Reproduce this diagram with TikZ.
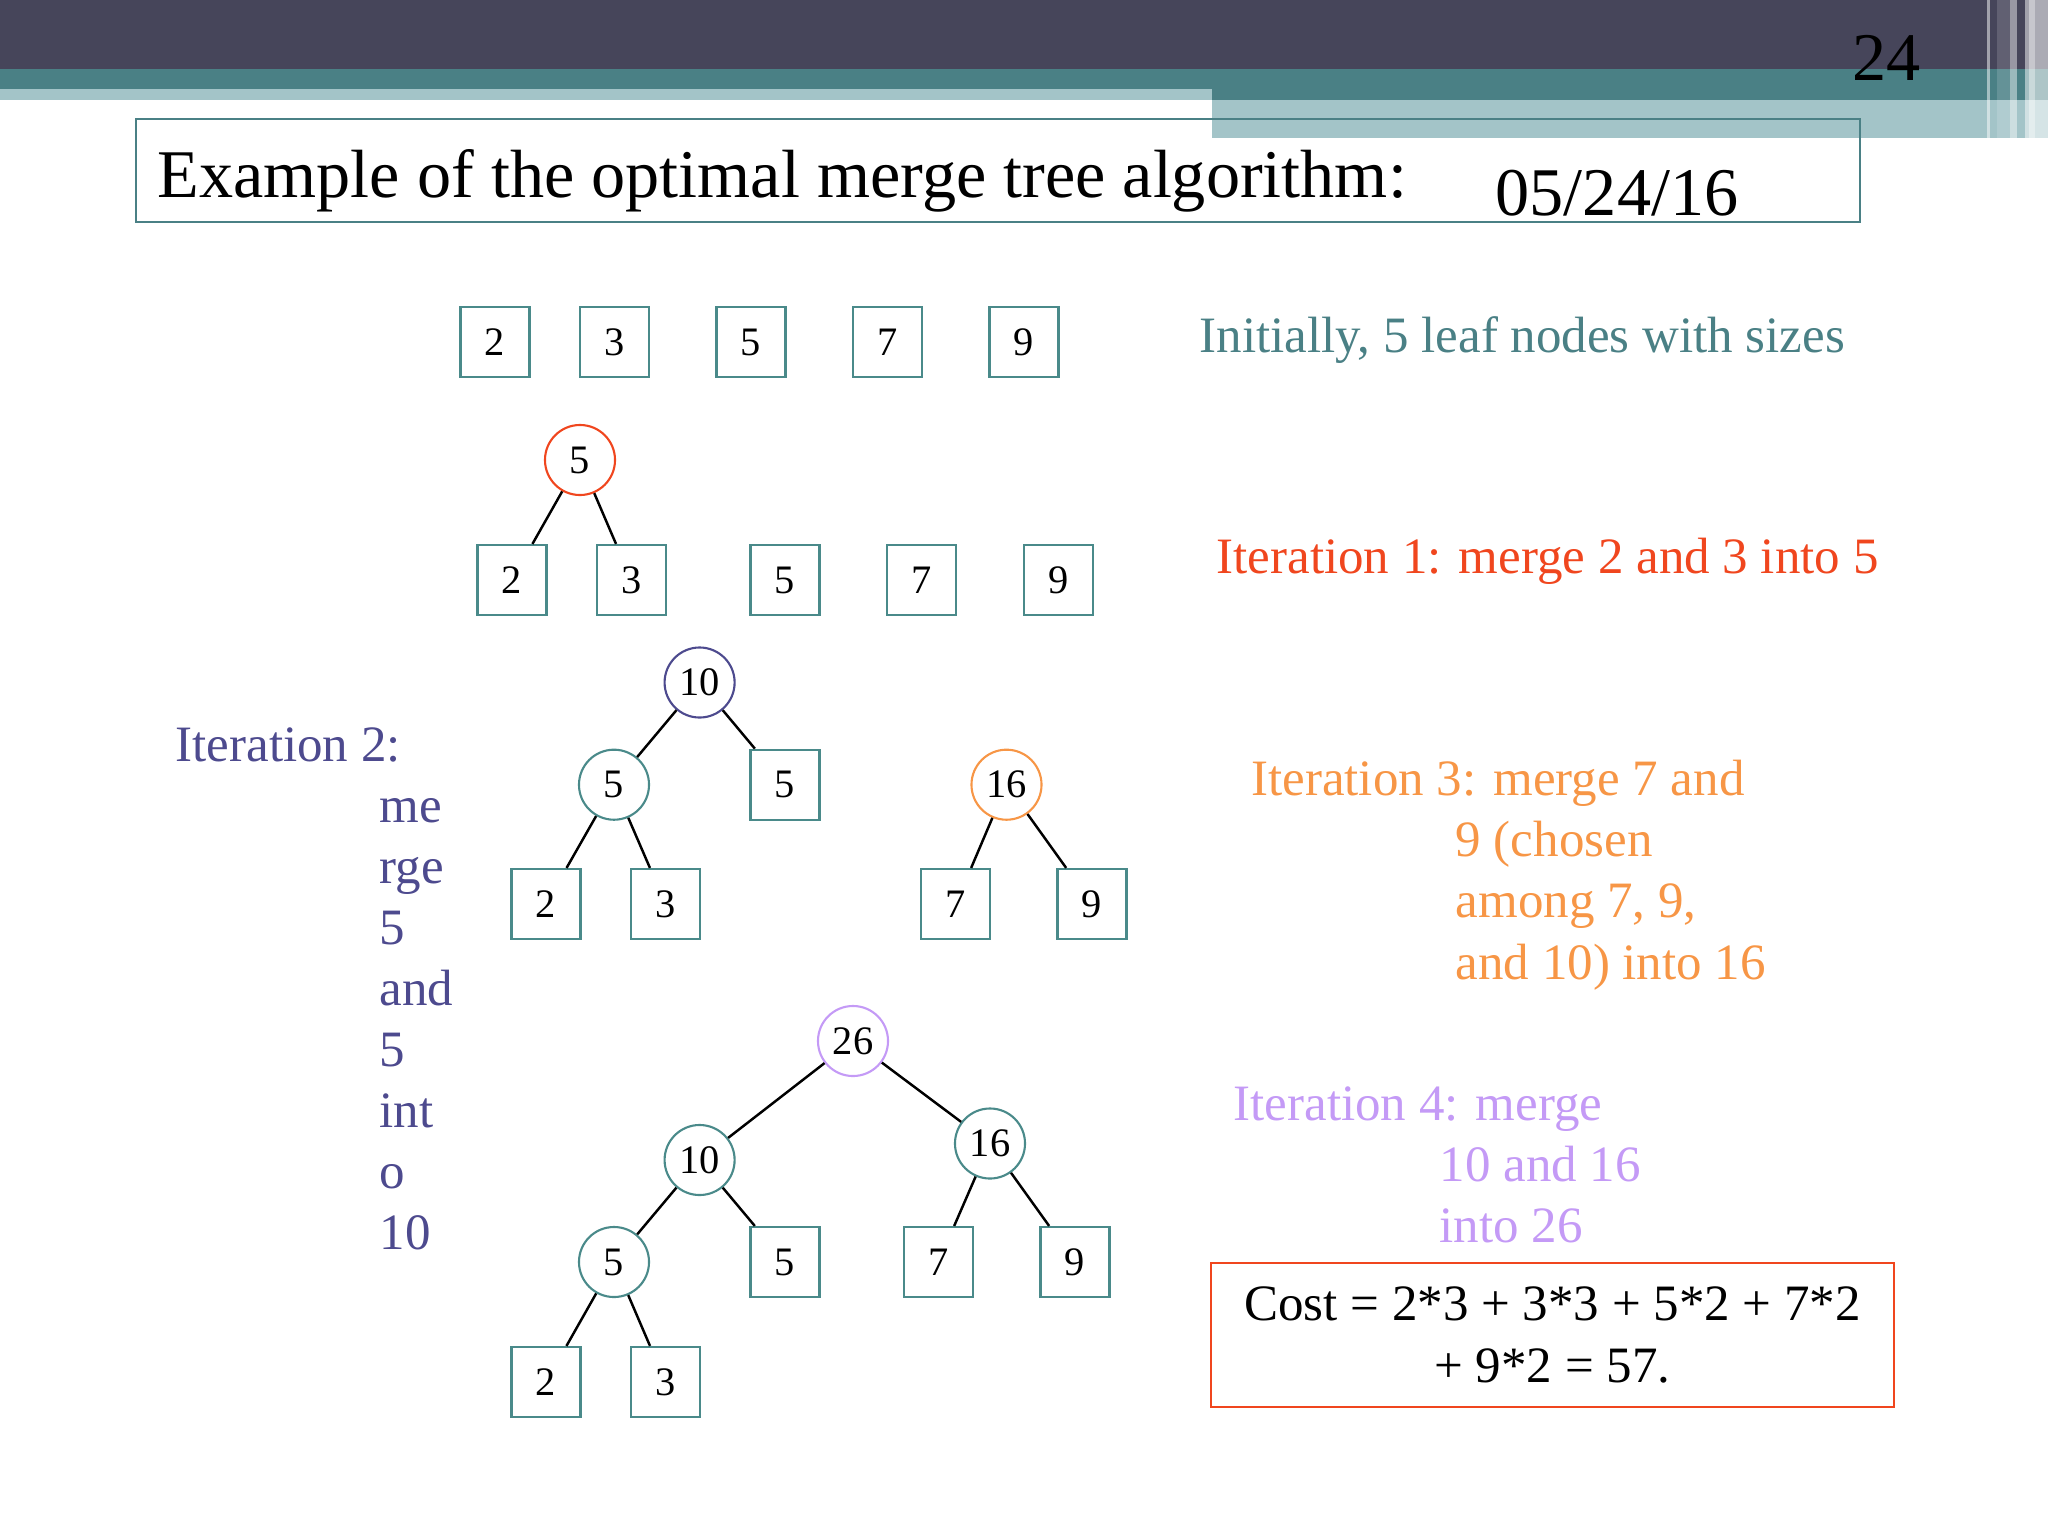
\documentclass[tikz,border=0pt]{standalone}
\usepackage{fontspec}
\setmainfont{Liberation Serif}
\definecolor{hdrdark}{HTML}{46455A}
\definecolor{hdrteal}{HTML}{4A8085}
\definecolor{hdrlight}{HTML}{A3C4C8}
\definecolor{leafteal}{HTML}{4A8A8A}
\definecolor{itone}{HTML}{F0461E}
\definecolor{ittwo}{HTML}{4D4A8E}
\definecolor{itthree}{HTML}{F79646}
\definecolor{itfour}{HTML}{C49AF6}

\begin{document}
\begin{tikzpicture}[x=0.01cm,y=-0.01cm,
  leaf/.style={draw=leafteal,line width=0.6pt,minimum width=0.69cm,minimum height=0.70cm,inner sep=0pt,font=\fontsize{11.5}{12}\selectfont},
  sum/.style={circle,draw=#1,line width=0.6pt,minimum size=0.70cm,inner sep=0pt,font=\fontsize{11.5}{12}\selectfont},
  note/.style={anchor=base west,inner sep=0pt,font=\fontsize{14.5}{17}\selectfont},
  branch/.style={line width=0.7pt}]
  \useasboundingbox (0,0) rectangle (2048,1536);
  % slide header
  \fill[hdrdark] (0,0) rectangle (2048,69);
  \fill[hdrteal] (0,69) rectangle (2048,89);
  \fill[hdrlight] (0,89) rectangle (1212,100);
  \fill[hdrteal] (1212,89) rectangle (2048,100);
  \fill[hdrlight] (1212,100) rectangle (2048,138);
  \foreach \a/\b/\o in {1987/1990/0.5,1997/2010/0.15,2010/2017/0.45,2025/2029/0.5,2029/2035/0.7,2035/2048/0.55}
    \fill[white,opacity=\o] (\a,0) rectangle (\b,138);
  \node[anchor=base west,inner sep=0pt,font=\fontsize{19.4}{22}\selectfont] (pagenum) at (1852,80) {24};
  \draw[hdrteal,line width=0.6pt] (136,119) rectangle (1860,222);
  \node[anchor=base west,inner sep=0pt,font=\fontsize{19.4}{22}\selectfont] (title) at (157,197) {Example of the optimal merge tree algorithm:};
  \node[anchor=base west,inner sep=0pt,font=\fontsize{19.4}{22}\selectfont] (date) at (1495,215) {05/24/16};

  % initial leaves
  \foreach \x/\v [count=\i] in {495/2,614.5/3,751/5,887.5/7,1024/9}
    \node[leaf] (a\i) at (\x,342) {\v};
  \node[note,hdrteal] (initnote) at (1199,352) {Initially, 5 leaf nodes with sizes};

  % iteration 1
  \node[sum=itone] (bsum) at (580,460) {5};
  \foreach \x/\v [count=\i] in {512/2,631.5/3,785/5,921.5/7,1058.5/9}
    \node[leaf] (b\i) at (\x,580) {\v};
  \draw[branch] (bsum) -- (b1);
  \draw[branch] (bsum) -- (b2);
  \node[note,itone] (onenote) at (1216,573) {Iteration 1: merge 2 and 3 into 5};

  % iterations 2 and 3
  \node[sum=ittwo] (c10) at (699.6,682.5) {10};
  \node[sum=leafteal] (c5) at (614,784.7) {5};
  \node[leaf] (cl5) at (785,784.7) {5};
  \node[leaf] (cl2) at (546,904) {2};
  \node[leaf] (cl3) at (665.5,904) {3};
  \node[sum=itthree] (c16) at (1006.5,784.7) {16};
  \node[leaf] (cl7) at (955.8,904) {7};
  \node[leaf] (cl9) at (1092,904) {9};
  \draw[branch] (c10) -- (c5);
  \draw[branch] (c10) -- (cl5);
  \draw[branch] (c5) -- (cl2);
  \draw[branch] (c5) -- (cl3);
  \draw[branch] (c16) -- (cl7);
  \draw[branch] (c16) -- (cl9);
  \node[note,ittwo] (twonote) at (175,761) {Iteration 2:};
  \foreach \w [count=\i] in {me,rge,5,and,5,int,o,10}
    \node[note,ittwo] (twoline\i) at (379,761+61*\i) {\w};
  \node[note,itthree] (threenote) at (1250.6,795) {Iteration 3: merge 7 and};
  \node[note,itthree] (threelinea) at (1455,856.7) {9 (chosen};
  \node[note,itthree] (threelineb) at (1455,917.7) {among 7, 9,};
  \node[note,itthree] (threelinec) at (1455,979) {and 10) into 16};

  % iteration 4
  \node[sum=itfour] (d26) at (853,1041) {26};
  \node[sum=leafteal] (d10) at (699.6,1160) {10};
  \node[sum=leafteal] (d16) at (990,1143.5) {16};
  \node[sum=leafteal] (d5) at (614,1262) {5};
  \node[leaf] (dl5) at (785,1262) {5};
  \node[leaf] (dl7) at (938.5,1262) {7};
  \node[leaf] (dl9) at (1075,1262) {9};
  \node[leaf] (dl2) at (546,1382) {2};
  \node[leaf] (dl3) at (665.5,1382) {3};
  \draw[branch] (d26) -- (d10);
  \draw[branch] (d26) -- (d16);
  \draw[branch] (d10) -- (d5);
  \draw[branch] (d10) -- (dl5);
  \draw[branch] (d16) -- (dl7);
  \draw[branch] (d16) -- (dl9);
  \draw[branch] (d5) -- (dl2);
  \draw[branch] (d5) -- (dl3);
  \node[note,itfour] (fournote) at (1233,1120) {Iteration 4: merge};
  \node[note,itfour] (fourlinea) at (1439,1181.7) {10 and 16};
  \node[note,itfour] (fourlineb) at (1439,1242.7) {into 26};

  % total cost
  \node[draw=itone,line width=0.6pt,minimum width=6.83cm,minimum height=1.44cm,align=center,
        font=\fontsize{14.5}{17.6}\selectfont] (cost) at (1552.5,1335) {Cost = 2*3 + 3*3 + 5*2 + 7*2\\+ 9*2 = 57.};
\end{tikzpicture}
\end{document}
